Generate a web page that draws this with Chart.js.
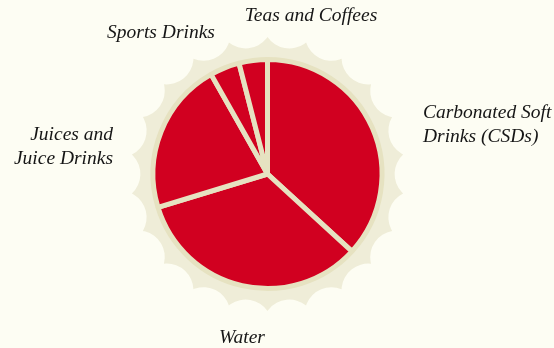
<!DOCTYPE html>
<html>
<head>
<meta charset="utf-8">
<script src="https://cdn.jsdelivr.net/npm/chart.js"></script>
<style>
  html, body { margin: 0; padding: 0; background: #fdfdf3; }
  #wrap { width: 554px; height: 348px; }
</style>
</head>
<body>
<div id="wrap"><canvas id="c" width="554" height="348"></canvas></div>
<script>
// beverage categories, clockwise from 12 o'clock
const categories = ['Carbonated Soft Drinks (CSDs)', 'Water', 'Juices and Juice Drinks', 'Sports Drinks', 'Teas and Coffees'];
const shares = [36.8, 33.5, 21.5, 4.2, 4.0];
const labelLines = [
  ['Carbonated Soft', 'Drinks (CSDs)'],
  ['Water'],
  ['Juices and', 'Juice Drinks'],
  ['Sports Drinks'],
  ['Teas and Coffees']
];

const RED = '#d10020';
const CREAM = '#e6e2c1';
const CAP = '#efedd8';

// bottle cap drawn behind the pie: points joined by round bites
const capPlugin = {
  id: 'cap',
  beforeDatasetsDraw(chart) {
    const arc = chart.getDatasetMeta(0).data[0];
    if (!arc) return;
    const ctx = chart.ctx;
    const cx = arc.x, cy = arc.y;
    const R = arc.outerRadius + 22.5;
    const n = 22, sag = 8.5;
    const step = Math.PI * 2 / n;
    const half = R * Math.sin(step / 2);
    const rb = (half * half + sag * sag) / (2 * sag);
    const bcR = R * Math.cos(step / 2) - sag + rb;
    ctx.save();
    ctx.beginPath();
    for (let i = 0; i < n; i++) {
      const a0 = -Math.PI / 2 + i * step;
      const a1 = a0 + step;
      const mid = (a0 + a1) / 2;
      const bx = cx + bcR * Math.cos(mid), by = cy + bcR * Math.sin(mid);
      const p0x = cx + R * Math.cos(a0), p0y = cy + R * Math.sin(a0);
      const p1x = cx + R * Math.cos(a1), p1y = cy + R * Math.sin(a1);
      if (i === 0) ctx.moveTo(p0x, p0y);
      ctx.arc(bx, by, rb, Math.atan2(p0y - by, p0x - bx), Math.atan2(p1y - by, p1x - bx), true);
    }
    ctx.closePath();
    ctx.fillStyle = CAP;
    ctx.fill();
    ctx.restore();
  }
};

// italic labels around the cap
const labelPlugin = {
  id: 'outLabels',
  afterDraw(chart, args, opts) {
    const arc = chart.getDatasetMeta(0).data[0];
    if (!arc) return;
    const ctx = chart.ctx;
    ctx.save();
    ctx.font = 'italic 19.5px "Liberation Serif", serif';
    ctx.fillStyle = '#161616';
    ctx.textBaseline = 'alphabetic';
    opts.spots.forEach((s, i) => {
      ctx.textAlign = s.align;
      labelLines[i].forEach((line, j) => {
        ctx.fillText(line, arc.x + s.dx, arc.y + s.dy + j * 24);
      });
    });
    ctx.restore();
  }
};

new Chart(document.getElementById('c'), {
  type: 'pie',
  data: {
    labels: categories,
    datasets: [{
      data: shares,
      backgroundColor: RED,
      borderColor: CREAM,
      borderWidth: 5,
      hoverOffset: 0
    }]
  },
  options: {
    responsive: false,
    animation: false,
    layout: { padding: { top: 57, bottom: 57, left: 100, right: 119 } },
    plugins: {
      legend: { display: false },
      tooltip: { enabled: false },
      outLabels: {
        spots: [
          { dx: 155.5, dy: -56, align: 'left' },
          { dx: -25.5, dy: 169, align: 'center' },
          { dx: -154.5, dy: -34, align: 'right' },
          { dx: -106.5, dy: -136, align: 'center' },
          { dx: 43.5, dy: -153, align: 'center' }
        ]
      }
    }
  },
  plugins: [capPlugin, labelPlugin]
});
</script>
</body>
</html>
